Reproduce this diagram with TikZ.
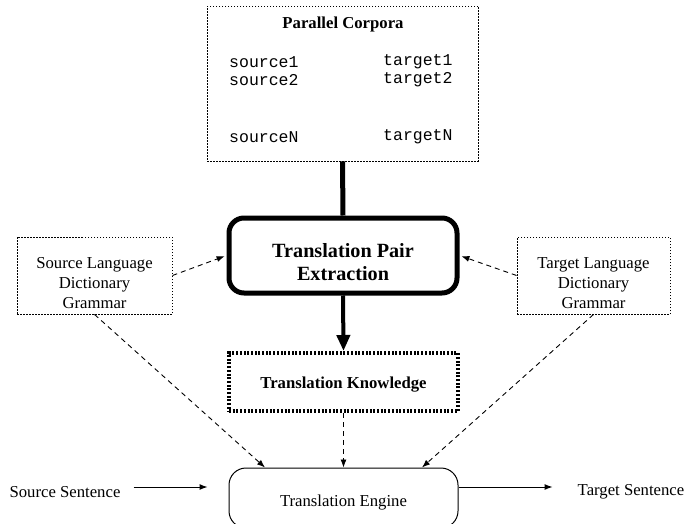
\documentclass[tikz,border=0pt]{standalone}
\usepackage{fontspec}
\setmainfont{Liberation Serif}
\setmonofont{Liberation Mono}
\usetikzlibrary{arrows.meta}

\newcommand{\sinkline}[1]{\rule{0pt}{#1}}

\tikzset{
	every node/.style={font=\fontsize{16.7}{20}\selectfont},
	corpusbox/.style={draw, dash pattern=on 1.5pt off 1.5pt, line width=0.9pt},
	corpusrow/.style={anchor=west, inner sep=0pt, font=\fontsize{16.5}{18}\selectfont\ttfamily},
	dictbox/.style={draw, dash pattern=on 1.5pt off 1.5pt, line width=0.9pt, align=center, minimum height=77pt},
	extractbox/.style={draw, line width=5pt, rounded corners=15pt, align=center, minimum width=228pt, minimum height=75pt, font=\fontsize{20.2}{23}\selectfont\bfseries},
	knowbox/.style={draw, line width=4pt, dash pattern=on 2pt off 1.7pt, minimum width=229pt, minimum height=58pt, font=\fontsize{16.7}{20}\selectfont\bfseries},
	enginebox/.style={draw, line width=1pt, rounded corners=17pt, minimum width=229pt, minimum height=60pt},
	feed/.style={draw, line width=0.9pt, dash pattern=on 5pt off 4pt, -{Latex[length=8pt,width=6pt]}},
	flow/.style={draw, line width=1pt, -{Latex[length=8pt,width=6pt]}}
}

\begin{document}
\begin{tikzpicture}[x=1pt, y=-1pt]
	\def\xMAX{688};
	\def\yMAX{524};
	\useasboundingbox (0,0) rectangle (\xMAX,\yMAX);

	\node[corpusbox, minimum width=271pt, minimum height=155pt] (corpora) at (342.5,83.5) {};
	\node[font=\fontsize{16.7}{20}\selectfont\bfseries] (corpustitle) at (343,24) {Parallel Corpora};
	\foreach \n/\y in {1/62, 2/80, N/137} {
		\node[corpusrow] (src\n) at (229,\y) {source\n};
		\node[corpusrow] (tgt\n) at (383,\y) {target\n};
	}

	\node[extractbox] (extract) at (343,255.5) {\sinkline{27.8pt}Translation Pair\\Extraction};
	\node[knowbox] (knowledge) at (343.5,382) {\sinkline{17.3pt}Translation Knowledge};
	\node[dictbox, minimum width=155pt] (srcdict) at (94.5,275.5) {\sinkline{25.3pt}Source Language\\Dictionary\\Grammar};
	\node[dictbox, minimum width=153pt] (tgtdict) at (593.5,275.5) {\sinkline{25.3pt}Target Language\\Dictionary\\Grammar};
	\node[enginebox] (engine) at (343.5,498) {\sinkline{21.3pt}Translation Engine};
	\node[inner xsep=13pt] (srcsent) at (65,492) {Source Sentence};
	\node[inner xsep=25pt] (tgtsent) at (631,492) {Target Sentence};

	\draw[line width=5pt] (corpora.south) -- (extract.north);
	\draw[line width=4pt, -{Triangle[length=16pt,width=13pt]}] (extract.south) -- (knowledge.north);

	\begin{scope}[shorten >=2pt]
		\draw[feed] (srcdict.east) -- (extract.west);
		\draw[feed] (tgtdict.west) -- (extract.east);
	\end{scope}

	\begin{scope}
		\draw[feed] (srcdict.south) -- ([xshift=-78.5pt]engine.north);
		\draw[feed] (knowledge.south) -- (engine.north);
		\draw[feed] (tgtdict.south) -- ([xshift=78.5pt]engine.north);
	\end{scope}

	\draw[flow, shorten >=21pt] ([yshift=5pt]srcsent.east) -- ([yshift=5pt]srcsent.east -| engine.west);
	\draw[flow] ([yshift=5pt]engine.east |- tgtsent.west) -- ([yshift=5pt]tgtsent.west);
\end{tikzpicture}
\end{document}
